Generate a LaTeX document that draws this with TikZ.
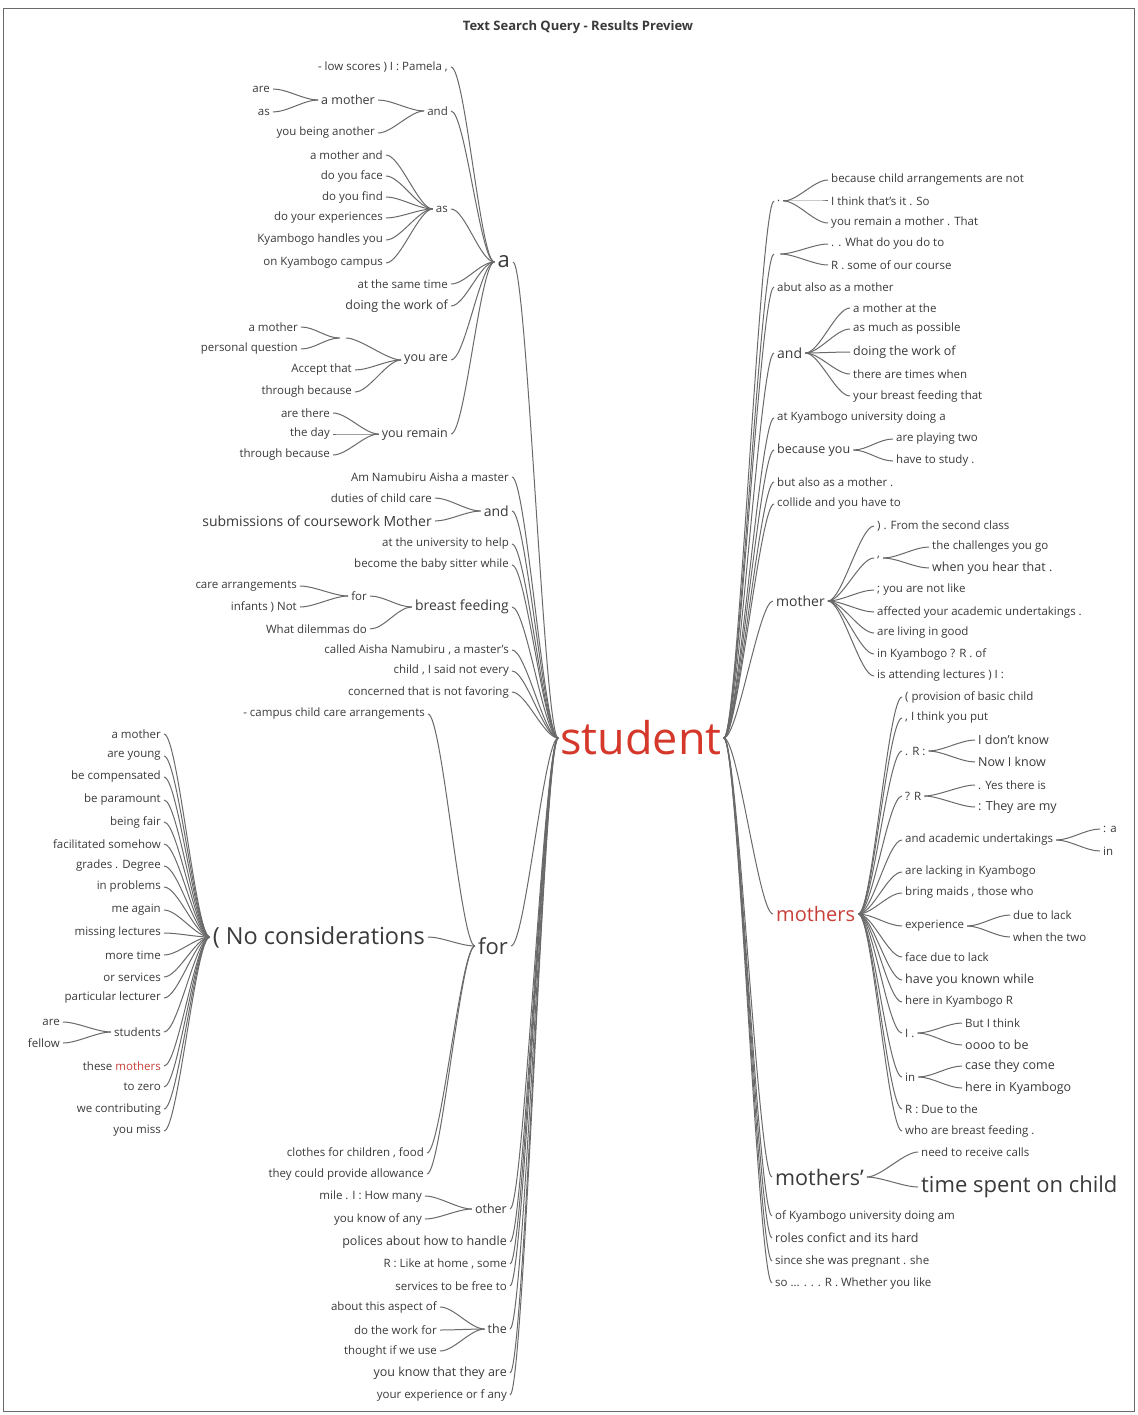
\documentclass[tikz,border=0pt]{standalone}
\usepackage{fontspec}
\setmainfont{Open Sans}
\definecolor{txt}{HTML}{3A3A3A}
\definecolor{ln}{HTML}{6A6A6A}
\definecolor{redA}{HTML}{D5372B}
\definecolor{redB}{HTML}{C8403A}
\newcommand\Lc[5]{\node[L,#1] (#2) at (#3) {#4}; \draw[conn] (#2.east) .. controls +(14,0) and +(-14,0) .. (#5.west);}
\newcommand\Rc[5]{\node[R,#1] (#2) at (#3) {#4}; \draw[conn] (#5.east) .. controls +(14,0) and +(-14,0) .. (#2.west);}
\begin{document}
\begin{tikzpicture}[x=1pt,y=-1pt,
  w/.style={inner xsep=3pt, inner ysep=1pt, text=txt},
  L/.style={w, anchor=east},
  R/.style={w, anchor=west},
  fA/.style={font=\fontsize{11.5}{13}\selectfont},
  fB/.style={font=\fontsize{12.5}{14}\selectfont},
  fC/.style={font=\fontsize{14}{16}\selectfont},
  fD/.style={font=\fontsize{22}{26}\selectfont},
  fN/.style={font=\fontsize{23.5}{27}\selectfont},
  fM/.style={font=\fontsize{20}{24}\selectfont},
  fQ/.style={font=\fontsize{21.5}{25}\selectfont},
  conn/.style={draw=ln, line width=1pt},
  frame/.style={draw=ln, line width=0.8pt}]
\useasboundingbox (0,0) rectangle (1137,1415);
\fill[white] (0,0) rectangle (1137,1415);
\draw[frame] (3,8) rectangle (1134,1411);
\node[font=\bfseries\fontsize{13}{15}\selectfont, text=txt] (title) at (578,27) {Text Search Query - Results Preview};
\node[font=\fontsize{45}{50}\selectfont, text=redA, inner sep=2pt] (st) at (641,738) {student};
% ---- a subtree
\Lc{fD}{a}{513,262}{a}{st}
\Lc{fA}{a1}{451,67}{- low scores ) I : Pamela ,}{a}
\Lc{fA}{a2}{451,111}{and}{a}
\Lc{fB}{a2a}{378,100}{a mother}{a2}
\Lc{fA}{a2aa}{273,89}{are}{a2a}
\Lc{fA}{a2ab}{273,112}{as}{a2a}
\Lc{fA}{a2b}{378,133}{you being another}{a2}
\Lc{fA}{a3}{451,209}{as}{a}
\Lc{fA}{a3a}{386,155}{a mother and}{a3}
\Lc{fA}{a3b}{386,176}{do you face}{a3}
\Lc{fA}{a3c}{386,197}{do you find}{a3}
\Lc{fA}{a3d}{386,218}{do your experiences}{a3}
\Lc{fA}{a3e}{386,240}{Kyambogo handles you}{a3}
\Lc{fA}{a3f}{386,263}{on Kyambogo campus}{a3}
\Lc{fA}{a4}{451,284}{at the same time}{a}
\Lc{fB}{a5}{451,306}{doing the work of}{a}
\Lc{fB}{a6}{451,360}{you are}{a}
\Lc{fA}{a6a}{346,338}{}{a6}
\Lc{fA}{a6aa}{301,327}{a mother}{a6a}
\Lc{fA}{a6ab}{301,349}{personal question}{a6a}
\Lc{fA}{a6b}{355,370}{Accept that}{a6}
\Lc{fA}{a6c}{355,392}{through because}{a6}
\Lc{fB}{a7}{451,434}{you remain}{a}
\Lc{fA}{a7a}{333,413}{are there}{a7}
\Lc{fA}{a7b}{333,434}{the day}{a7}
\Lc{fA}{a7c}{333,455}{through because}{a7}
% ---- other left children of student
\Lc{fA}{s1}{512,477}{Am Namubiru Aisha a master}{st}
\Lc{fC}{s2}{512,511}{and}{st}
\Lc{fA}{s2a}{435,498}{duties of child care}{s2}
\Lc{fC}{s2b}{435,521}{submissions of coursework Mother}{s2}
\Lc{fA}{s3}{512,544}{at the university to help}{st}
\Lc{fA}{s4}{512,565}{become the baby sitter while}{st}
\Lc{fC}{s5}{512,607}{breast feeding}{st}
\Lc{fA}{s5a}{370,596}{for}{s5}
\Lc{fA}{s5aa}{300,586}{care arrangements}{s5a}
\Lc{fA}{s5ab}{300,607}{infants ) Not}{s5a}
\Lc{fA}{s5b}{370,629}{What dilemmas do}{s5}
\Lc{fA}{s6}{512,650}{called Aisha Namubiru , a master's}{st}
\Lc{fA}{s7}{512,671}{child , I said not every}{st}
\Lc{fA}{s8}{512,692}{concerned that is not favoring}{st}
\Lc{fD}{s9}{511,946}{for}{st}
\Lc{fA}{s9a}{428,714}{- campus child care arrangements}{s9}
\Lc{fN}{s9b}{428,937}{( No considerations}{s9}
\Lc{fA}{s9c}{427,1153}{clothes for children , food}{s9}
\Lc{fA}{s9d}{427,1174}{they could provide allowance}{s9}
% ---- ( No considerations children
\Lc{fA}{n1}{164,734}{a mother}{s9b}
\Lc{fA}{n2}{164,756}{are young}{s9b}
\Lc{fA}{n3}{164,777}{be compensated}{s9b}
\Lc{fA}{n4}{164,800}{be paramount}{s9b}
\Lc{fA}{n5}{164,822}{being fair}{s9b}
\Lc{fA}{n6}{164,844}{facilitated somehow}{s9b}
\Lc{fA}{n7}{164,866}{grades . Degree}{s9b}
\Lc{fA}{n8}{164,887}{in problems}{s9b}
\Lc{fA}{n9}{164,910}{me again}{s9b}
\Lc{fA}{n10}{164,933}{missing lectures}{s9b}
\Lc{fA}{n11}{164,955}{more time}{s9b}
\Lc{fA}{n12}{164,977}{or services}{s9b}
\Lc{fA}{n13}{164,998}{particular lecturer}{s9b}
\Lc{fA}{n14}{164,1032}{students}{s9b}
\Lc{fA}{n14a}{63,1022}{are}{n14}
\Lc{fA}{n14b}{63,1043}{fellow}{n14}
\Lc{fA}{n15}{164,1066}{these \textcolor{redB}{mothers}}{s9b}
\Lc{fA}{n16}{164,1087}{to zero}{s9b}
\Lc{fA}{n17}{164,1109}{we contributing}{s9b}
\Lc{fA}{n18}{164,1131}{you miss}{s9b}
% ---- lower left
\Lc{fB}{s10}{510,1209}{other}{st}
\Lc{fA}{s10a}{425,1196}{mile . I : How many}{s10}
\Lc{fA}{s10b}{425,1219}{you know of any}{s10}
\Lc{fB}{s11}{510,1242}{polices about how to handle}{st}
\Lc{fA}{s12}{510,1264}{R : Like at home , some}{st}
\Lc{fA}{s13}{510,1286}{services to be free to}{st}
\Lc{fB}{s14}{510,1329}{the}{st}
\Lc{fA}{s14a}{440,1307}{about this aspect of}{s14}
\Lc{fA}{s14b}{440,1330}{do the work for}{s14}
\Lc{fA}{s14c}{440,1351}{thought if we use}{s14}
\Lc{fB}{s15}{510,1373}{you know that they are}{st}
\Lc{fA}{s16}{510,1395}{your experience or f any}{st}
% ---- right side
\Rc{fA}{r1}{774,201}{.}{st}
\Rc{fA}{r1a}{828,180}{because child arrangements are not}{r1}
\Rc{fA}{r1b}{828,201}{I think that's it . So}{r1}
\Rc{fA}{r1c}{828,223}{you remain a mother . That}{r1}
\Rc{fA}{r2}{774,254}{}{st}
\Rc{fA}{r2a}{828,244}{. . What do you do to}{r2}
\Rc{fA}{r2b}{828,265}{R . some of our course}{r2}
\Rc{fA}{r3}{774,287}{abut also as a mother}{st}
\Rc{fC}{r4}{774,353}{and}{st}
\Rc{fA}{r4a}{850,308}{a mother at the}{r4}
\Rc{fA}{r4b}{850,329}{as much as possible}{r4}
\Rc{fB}{r4c}{850,352}{doing the work of}{r4}
\Rc{fA}{r4d}{850,374}{there are times when}{r4}
\Rc{fA}{r4e}{850,396}{your breast feeding that}{r4}
\Rc{fA}{r5}{774,418}{at Kyambogo university doing a}{st}
\Rc{fB}{r6}{774,450}{because you}{st}
\Rc{fA}{r6a}{893,439}{are playing two}{r6}
\Rc{fA}{r6b}{893,461}{have to study .}{r6}
\Rc{fA}{r7}{774,482}{but also as a mother .}{st}
\Rc{fA}{r8}{774,504}{collide and you have to}{st}
\Rc{fC}{r9}{773,601}{mother}{st}
\Rc{fA}{r9a}{874,526}{) . From the second class}{r9}
\Rc{fA}{r9b}{874,558}{,}{r9}
\Rc{fA}{r9ba}{929,547}{the challenges you go}{r9b}
\Rc{fB}{r9bb}{929,568}{when you hear that .}{r9b}
\Rc{fA}{r9c}{874,590}{; you are not like}{r9}
\Rc{fA}{r9d}{874,612}{affected your academic undertakings .}{r9}
\Rc{fA}{r9e}{874,633}{are living in good}{r9}
\Rc{fA}{r9f}{874,654}{in Kyambogo ? R . of}{r9}
\Rc{fA}{r9g}{874,676}{is attending lectures ) I :}{r9}
\Rc{fM,text=redB}{r10}{773,914}{mothers}{st}
\Rc{fA}{r10a}{902,697}{( provision of basic child}{r10}
\Rc{fA}{r10b}{902,718}{, I think you put}{r10}
\Rc{fA}{r10c}{902,751}{. R :}{r10}
\Rc{fB}{r10ca}{975,740}{I don't know}{r10c}
\Rc{fB}{r10cb}{975,762}{Now I know}{r10c}
\Rc{fA}{r10d}{902,796}{? R}{r10}
\Rc{fA}{r10da}{975,785}{. Yes there is}{r10d}
\Rc{fB}{r10db}{975,807}{: They are my}{r10d}
\Rc{fA}{r10e}{902,840}{and academic undertakings}{r10}
\Rc{fA}{r10ea}{1100,829}{: a}{r10e}
\Rc{fA}{r10eb}{1100,851}{in}{r10e}
\Rc{fA}{r10f}{902,872}{are lacking in Kyambogo}{r10}
\Rc{fA}{r10g}{902,893}{bring maids , those who}{r10}
\Rc{fA}{r10h}{902,926}{experience}{r10}
\Rc{fA}{r10ha}{1010,915}{due to lack}{r10h}
\Rc{fA}{r10hb}{1010,937}{when the two}{r10h}
\Rc{fA}{r10i}{902,957}{face due to lack}{r10}
\Rc{fB}{r10j}{902,980}{have you known while}{r10}
\Rc{fA}{r10k}{902,1002}{here in Kyambogo R}{r10}
\Rc{fA}{r10l}{902,1033}{I .}{r10}
\Rc{fA}{r10la}{962,1023}{But I think}{r10l}
\Rc{fB}{r10lb}{962,1045}{oooo to be}{r10l}
\Rc{fA}{r10m}{902,1077}{in}{r10}
\Rc{fB}{r10ma}{962,1066}{case they come}{r10m}
\Rc{fB}{r10mb}{962,1088}{here in Kyambogo}{r10m}
\Rc{fA}{r10n}{902,1109}{R : Due to the}{r10}
\Rc{fA}{r10o}{902,1131}{who are breast feeding .}{r10}
\Rc{fQ}{r11}{772,1177}{mothers'}{st}
\Rc{fA}{r11a}{918,1152}{need to receive calls}{r11}
\Rc{fD}{r11b}{918,1187}{time spent on child}{r11}
\Rc{fA}{r12}{772,1216}{of Kyambogo university doing am}{st}
\Rc{fB}{r13}{772,1238}{roles confict and its hard}{st}
\Rc{fA}{r14}{772,1261}{since she was pregnant . she}{st}
\Rc{fA}{r15}{772,1283}{so ... . . . R . Whether you like}{st}
\end{tikzpicture}
\end{document}
